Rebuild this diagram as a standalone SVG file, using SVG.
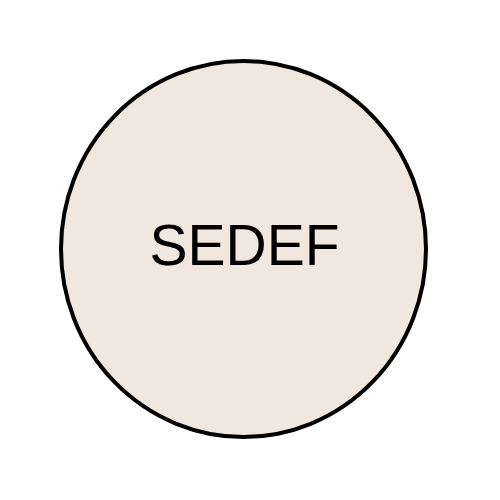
<svg xmlns="http://www.w3.org/2000/svg" width="500" height="500" viewBox="0 0 500 500">
<style>
.node{fill:#F0E7DF;stroke:#000;stroke-width:4}
.label{font-family:"Liberation Sans",Arial,sans-serif;font-size:57px;fill:#000;text-anchor:middle}
</style>
<rect width="500" height="500" fill="#fff"/>
<g id="connectors"/>
<g id="node-sedef">
<ellipse class="node" cx="243.5" cy="249" rx="182.5" ry="188"/>
<text class="label" x="244.5" y="265">SEDEF</text>
</g>
</svg>
